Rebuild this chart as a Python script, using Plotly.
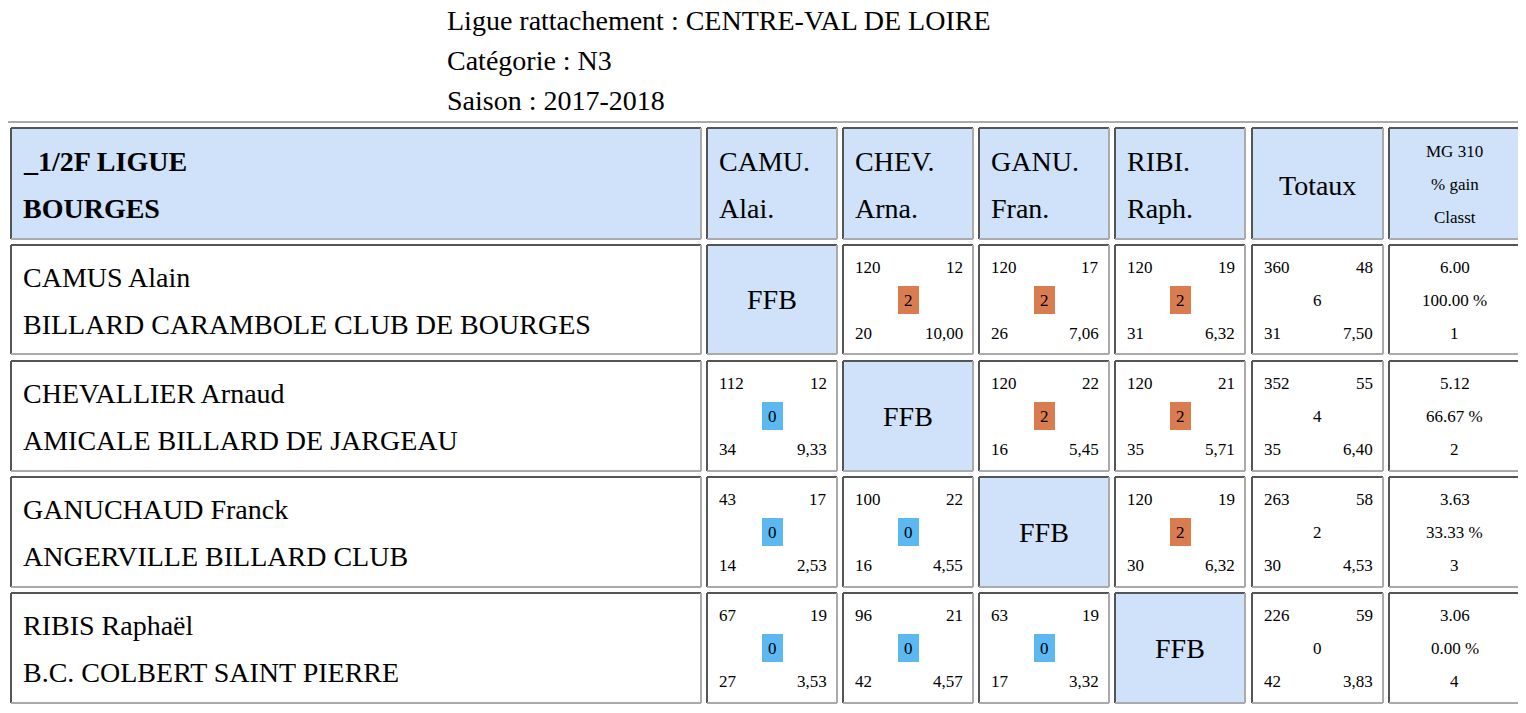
import plotly.graph_objects as go

# Data
title_lines = ["Ligue rattachement : CENTRE-VAL DE LOIRE", "Catégorie : N3", "Saison : 2017-2018"]
poule = ["_1/2F LIGUE", "BOURGES"]
abbr_top = ["CAMU.", "CHEV.", "GANU.", "RIBI."]
abbr_bot = ["Alai.", "Arna.", "Fran.", "Raph."]
players = ["CAMUS Alain", "CHEVALLIER Arnaud", "GANUCHAUD Franck", "RIBIS Raphaël"]
clubs = ["BILLARD CARAMBOLE CLUB DE BOURGES", "AMICALE BILLARD DE JARGEAU",
         "ANGERVILLE BILLARD CLUB", "B.C. COLBERT SAINT PIERRE"]
# per match: points, reprises, match points, serie, moyenne (None = self)
matches = [
    [None, (120, 12, 2, 20, "10,00"), (120, 17, 2, 26, "7,06"), (120, 19, 2, 31, "6,32")],
    [(112, 12, 0, 34, "9,33"), None, (120, 22, 2, 16, "5,45"), (120, 21, 2, 35, "5,71")],
    [(43, 17, 0, 14, "2,53"), (100, 22, 0, 16, "4,55"), None, (120, 19, 2, 30, "6,32")],
    [(67, 19, 0, 27, "3,53"), (96, 21, 0, 42, "4,57"), (63, 19, 0, 17, "3,32"), None],
]
totals = [(360, 48, 6, 31, "7,50"), (352, 55, 4, 35, "6,40"),
          (263, 58, 2, 30, "4,53"), (226, 59, 0, 42, "3,83")]
mg = ["6.00", "5.12", "3.63", "3.06"]
gain = ["100.00 %", "66.67 %", "33.33 %", "0.00 %"]
classt = ["1", "2", "3", "4"]

FONT = "Liberation Serif, Times New Roman, DejaVu Serif, serif"
BLUE = "#cfe2fa"
WIN, LOSS = "#d97c50", "#5bb8f0"

col_x = [(11, 701), (707, 837), (843, 973), (979, 1109), (1115, 1245), (1252, 1383), (1389, 1520)]
row_y = [(128, 239), (245, 354), (361, 471), (477, 587), (593, 703)]

shapes, ann = [], []


def text(x, y, t, size, xanchor="left", bold=False):
    ann.append(dict(x=x, y=y, text=f"<b>{t}</b>" if bold else t, showarrow=False,
                    xanchor=xanchor, yanchor="middle", font=dict(family=FONT, size=size, color="black")))


def cell(c, r, fill="white"):
    x0, x1 = col_x[c]
    y0, y1 = row_y[r]
    shapes.append(dict(type="rect", x0=x0, x1=x1, y0=y0, y1=y1, fillcolor=fill, line=dict(width=0), layer="below"))
    for xa, ya, xb, yb, col in [(x0, y0, x1, y0, "#555"), (x0, y0, x0, y1, "#555"),
                                (x0, y1, x1, y1, "#aaa"), (x1, y0, x1, y1, "#aaa")]:
        shapes.append(dict(type="line", x0=xa, y0=ya, x1=xb, y1=yb, line=dict(color=col, width=2)))


# outer table border
for xa, ya, xb, yb, col in [(5, 122, 1524, 122, "#aaa"), (5, 122, 5, 709, "#aaa"),
                            (5, 709, 1524, 709, "#555"), (1524, 122, 1524, 709, "#555")]:
    shapes.append(dict(type="line", x0=xa, y0=ya, x1=xb, y1=yb, line=dict(color=col, width=2)))

for i, t in enumerate(title_lines):
    text(445, 20 + 40 * i, t, 28)

# header
for c in range(7):
    cell(c, 0, BLUE)
text(21, 161, poule[0], 28, bold=True)
text(21, 208, poule[1], 28, bold=True)
for j in range(4):
    text(col_x[j + 1][0] + 10, 161, abbr_top[j], 28)
    text(col_x[j + 1][0] + 10, 208, abbr_bot[j], 28)
text(sum(col_x[5]) / 2, 185, "Totaux", 28, "center")
for k, t in enumerate(["MG 310", "% gain", "Classt"]):
    text(sum(col_x[6]) / 2, 151 + 33 * k, t, 17, "center")


def score(c, r, vals):
    x0, x1 = col_x[c]
    y0 = row_y[r][0]
    xm = (x0 + x1) / 2
    pts, rep, mp, ser, moy = vals
    text(x0 + 10, y0 + 22, str(pts), 17)
    text(x1 - 8, y0 + 22, str(rep), 17, "right")
    text(x0 + 10, y0 + 88, str(ser), 17)
    text(x1 - 8, y0 + 88, moy, 17, "right")
    return xm, y0 + 55, mp


for r in range(4):
    for c in range(7):
        cell(c, r + 1, BLUE if c == r + 1 else "white")
    y0, y1 = row_y[r + 1]
    text(21, y0 + 32, players[r], 28)
    text(21, y0 + 79, clubs[r], 28)
    for j in range(4):
        m = matches[r][j]
        if m is None:
            x0, x1 = col_x[j + 1]
            text((x0 + x1) / 2, (y0 + y1) / 2, "FFB", 28, "center")
            continue
        xm, ym, mp = score(j + 1, r + 1, m)
        shapes.append(dict(type="rect", x0=xm - 10, x1=xm + 11, y0=ym - 14, y1=ym + 14,
                           fillcolor=WIN if mp == 2 else LOSS, line=dict(width=0), layer="below"))
        text(xm, ym, str(mp), 17, "center")
    xm, ym, mp = score(5, r + 1, totals[r])
    text(xm, ym, str(mp), 17, "center")
    xm6 = sum(col_x[6]) / 2
    text(xm6, y0 + 22, mg[r], 17, "center")
    text(xm6, y0 + 55, gain[r], 17, "center")
    text(xm6, y0 + 88, classt[r], 17, "center")

# page body adds an 8px margin, so the figure covers pixels 8..1518 / 8..705
fig = go.Figure()
fig.update_layout(
    width=1510, height=697, margin=dict(l=0, r=0, t=0, b=0),
    plot_bgcolor="white", paper_bgcolor="white", showlegend=False,
    shapes=shapes, annotations=ann,
    xaxis=dict(range=[8, 1518], visible=False, fixedrange=True),
    yaxis=dict(range=[705, 8], visible=False, fixedrange=True),
)
fig.write_html("out.html")
